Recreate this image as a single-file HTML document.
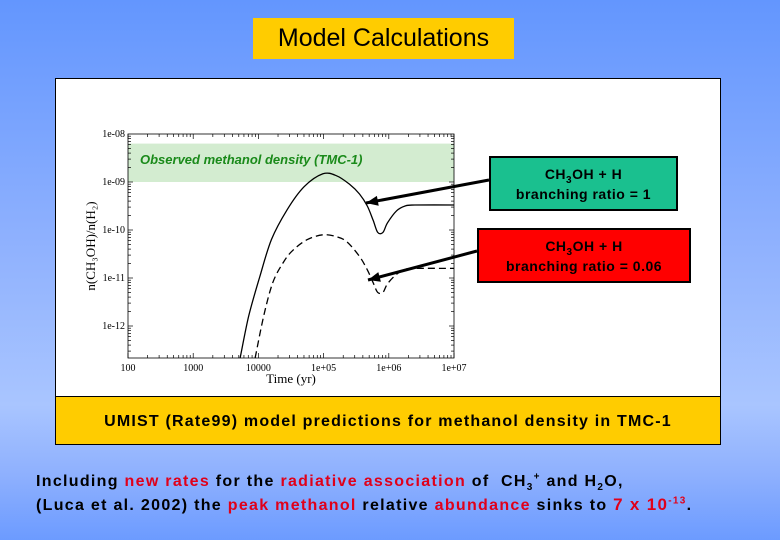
<!DOCTYPE html>
<html><head><meta charset="utf-8"><style>
body{margin:0;width:780px;height:540px;overflow:hidden;background:linear-gradient(180deg,#6396fe 0%,#8fb1fe 45%,#a9c5ff 75%,#8eb0fe 88%,#6c9bff 100%);font-family:"Comic Sans MS","Liberation Sans",sans-serif;position:relative}
.abs{position:absolute}
sub,sup{line-height:0;font-size:10px}
#title{left:253px;top:18px;width:261px;height:41px;background:#fc0;font-size:25px;line-height:41px;text-align:center;color:#000}
#panel{left:55px;top:78px;width:664px;height:318px;background:#fff;border:1px solid #000}
#ybox{left:55px;top:396px;width:664px;height:47px;background:#fc0;border:1px solid #000;font-size:16px;letter-spacing:1.2px;font-weight:bold;line-height:50px;text-align:center;white-space:nowrap}
.b{border:2px solid #000;text-align:center;font-weight:bold;font-size:14px;line-height:20px;box-sizing:border-box;letter-spacing:0.5px}
#foot{left:36px;top:470px;font-size:16px;letter-spacing:1.3px;font-weight:bold;line-height:23px;color:#000;white-space:nowrap}
.r{color:#e0001a}
</style></head><body>
<div id="title" class="abs">Model Calculations</div>
<div id="panel" class="abs"></div>
<svg class="abs" style="left:0;top:0" width="780" height="540">
<g id="g" font-family="Liberation Serif, serif" font-size="10"></g>
</svg>
<div class="abs b" style="left:489px;top:156px;width:189px;height:55px;background:#1ac08f;padding-top:6px">CH<sub>3</sub>OH + H<br>branching ratio = 1</div>
<div class="abs b" style="left:477px;top:228px;width:214px;height:55px;background:#f00;padding-top:6px">CH<sub>3</sub>OH + H<br>branching ratio = 0.06</div>
<div id="ybox" class="abs">UMIST (Rate99) model predictions for methanol density in TMC-1</div>
<div id="foot" class="abs">Including <span class="r">new rates</span> for the <span class="r">radiative association</span> of &nbsp;CH<sub>3</sub><sup>+</sup> and H<sub>2</sub>O,<br>(Luca et al. 2002) the <span class="r">peak methanol</span> relative <span class="r">abundance</span> sinks to <span class="r" style="font-size:17px">7 x 10<sup>-13</sup></span>.</div>
<script>
const xTicks=[2,3,4,5,6,7];
const xLabels=["100","1000","10000","1e+05","1e+06","1e+07"];
const yTicks=[-8,-9,-10,-11,-12];
const yLabels=["1e-08","1e-09","1e-10","1e-11","1e-12"];
const solidT=[3.72,3.85,4.02,4.2,4.44,4.7,4.99,5.2,5.4,5.55,5.67,5.76,5.83,5.91,5.98,6.12,6.25,6.4,7.0];
const solidN=[-12.67,-11.8,-10.98,-10.2,-9.58,-9.1,-8.83,-8.87,-9.05,-9.25,-9.5,-9.8,-10.05,-10.05,-9.85,-9.6,-9.5,-9.48,-9.48];
const dashT=[3.95,4.08,4.22,4.38,4.53,4.75,4.99,5.2,5.36,5.55,5.67,5.76,5.83,5.91,5.98,6.12,6.25,6.4,7.0];
const dashN=[-12.67,-11.8,-11.1,-10.68,-10.42,-10.2,-10.1,-10.14,-10.25,-10.55,-10.83,-11.1,-11.3,-11.3,-11.12,-10.92,-10.82,-10.8,-10.8];
const X0=128,X1=454,Y0=134,YB=358;
const x=v=>X0+(v-2)/5*(X1-X0);
const y=v=>Y0+(-8-v)*48;
const yMin=-8-(YB-Y0)/48;
const g=document.getElementById('g');const NS='http://www.w3.org/2000/svg';
function mk(t,a,p){const e=document.createElementNS(NS,t);for(const k in a)e.setAttribute(k,a[k]);(p||g).appendChild(e);return e;}
let band=mk('rect',{x:X0,y:y(-8.2),width:X1-X0,height:y(-9)-y(-8.2),fill:'#d3ecd0'});


let bt=mk('text',{x:140,y:164,'font-family':'Comic Sans MS, Liberation Sans, sans-serif','font-size':13,'font-weight':'bold','font-style':'italic',fill:'#1a8a1a'});bt.textContent='Observed methanol density (TMC-1)';


let fr=mk('rect',{x:X0,y:Y0,width:X1-X0,height:YB-Y0,fill:'none',stroke:'#000','stroke-width':0.8});


xTicks.forEach((t,i)=>{
  for(let k=1;k<10&&t+Math.log10(k)<=7;k++){const xx=x(t+Math.log10(k));const L=k==1?5:3;
    mk('line',{x1:xx,x2:xx,y1:YB,y2:YB-L,stroke:'#000','stroke-width':0.7});mk('line',{x1:xx,x2:xx,y1:Y0,y2:Y0+L,stroke:'#000','stroke-width':0.7});}
  let tx=mk('text',{x:x(t),y:YB+13,'text-anchor':'middle'});tx.textContent=xLabels[i];
  
  
});
yTicks.forEach((t,i)=>{
  for(let k=1;k<10;k++){const v=t-1+Math.log10(k);if(v<yMin)continue;const yy=y(v);const L=k==1?5:3;
    mk('line',{x1:X0,x2:X0+L,y1:yy,y2:yy,stroke:'#000','stroke-width':0.7});mk('line',{x1:X1,x2:X1-L,y1:yy,y2:yy,stroke:'#000','stroke-width':0.7});}
  let ty=mk('text',{x:X0-3,y:y(t)+3,'text-anchor':'end'});ty.textContent=yLabels[i];
  
  
});
let xt=mk('text',{x:291,y:383,'text-anchor':'middle','font-size':13});xt.textContent='Time (yr)';


let yt=mk('text',{x:95,y:246,'text-anchor':'middle','font-size':13,transform:'rotate(-90 95 246)'});yt.textContent='n(CH₃OH)/n(H₂)';


function curve(T,N,dash,name){
  const P=T.map((t,i)=>[x(t),y(Math.max(N[i],yMin))]);
  let d='M'+P[0][0].toFixed(1)+','+P[0][1].toFixed(1);
  for(let i=0;i<P.length-1;i++){const p0=P[Math.max(i-1,0)],p1=P[i],p2=P[i+1],p3=P[Math.min(i+2,P.length-1)];
    const c1=[p1[0]+(p2[0]-p0[0])/6,p1[1]+(p2[1]-p0[1])/6],c2=[p2[0]-(p3[0]-p1[0])/6,p2[1]-(p3[1]-p1[1])/6];
    d+=` C${c1[0].toFixed(1)},${c1[1].toFixed(1)} ${c2[0].toFixed(1)},${c2[1].toFixed(1)} ${p2[0].toFixed(1)},${p2[1].toFixed(1)}`;}
  const p=mk('path',{d:d,fill:'none',stroke:'#000','stroke-width':1.3,'stroke-dasharray':dash?'7,4':'none','stroke-linejoin':'round'});
  
  }
curve(solidT,solidN,false,'solid-curve');
curve(dashT,dashN,true,'dashed-curve');
function arrow(x1,y1,x2,y2,name){const a=mk('line',{x1,y1,x2,y2,stroke:'#000','stroke-width':3});
  
  
  const ang=Math.atan2(y2-y1,x2-x1),L=12,w=5;
  mk('polygon',{points:`${x2},${y2} ${x2-L*Math.cos(ang)+w*Math.sin(ang)},${y2-L*Math.sin(ang)-w*Math.cos(ang)} ${x2-L*Math.cos(ang)-w*Math.sin(ang)},${y2-L*Math.sin(ang)+w*Math.cos(ang)}`,fill:'#000'});}
arrow(489,180,366,203,'arrow-ratio-1');
arrow(477,251,368,280,'arrow-ratio-006');
</script>
</body></html>
